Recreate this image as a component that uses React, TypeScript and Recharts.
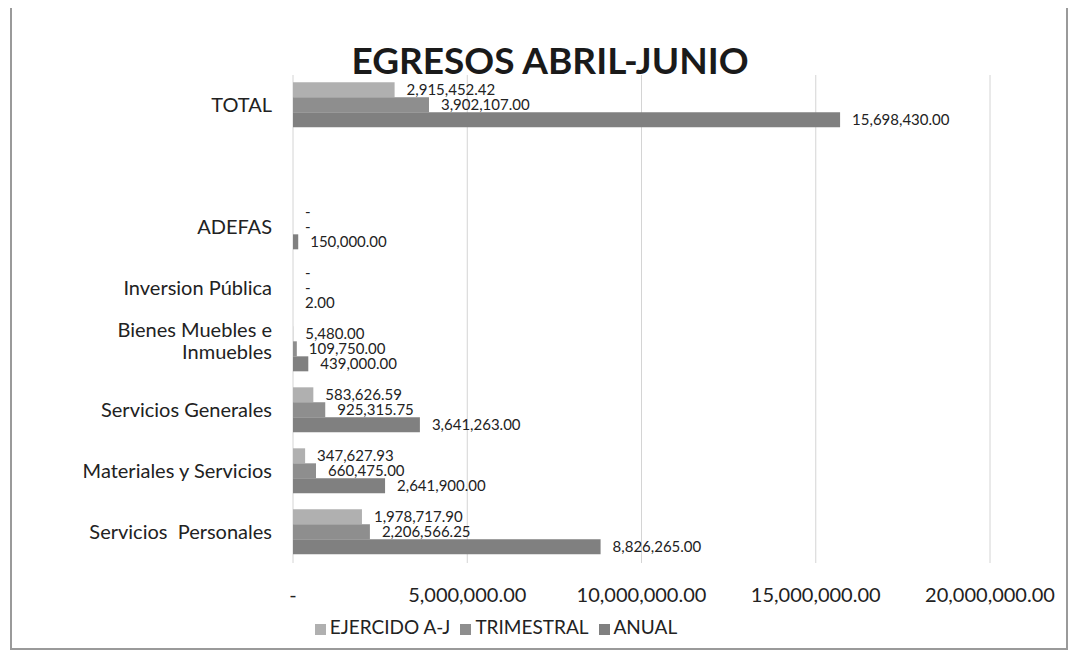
import React from 'react';
import { BarChart, Bar, XAxis, YAxis, CartesianGrid, Legend, LabelList } from 'recharts';

const categories = [
  'TOTAL',
  '',
  'ADEFAS',
  'Inversion Pública',
  'Bienes Muebles e Inmuebles',
  'Servicios Generales',
  'Materiales y Servicios',
  'Servicios  Personales',
];
const ejercido = [2915452.42, null, 0, 0, 5480, 583626.59, 347627.93, 1978717.9];
const trimestral = [3902107, null, 0, 0, 109750, 925315.75, 660475, 2206566.25];
const anual = [15698430, null, 150000, 2, 439000, 3641263, 2641900, 8826265];
const xTicks = [0, 5000000, 10000000, 15000000, 20000000];
const seriesNames = ['EJERCIDO A-J', 'TRIMESTRAL', 'ANUAL'];

const data = categories.map((name, i) => ({
  name,
  ejercido: ejercido[i],
  trimestral: trimestral[i],
  anual: anual[i],
}));

const FONT = 'Lato, "Open Sans", sans-serif';

const money = (v: any) => {
  if (v === null || v === undefined) return '';
  if (v === 0) return '-';
  return Number(v).toLocaleString('en-US', { minimumFractionDigits: 2, maximumFractionDigits: 2 });
};

// wrap long category names onto two lines
const splitLabel = (s: string) => {
  if (s.length <= 23) return [s];
  const words = s.split(' ');
  const lines: string[] = [];
  let cur = '';
  words.forEach((w) => {
    const next = cur ? cur + ' ' + w : w;
    if (next.length > 17 && cur) {
      lines.push(cur);
      cur = w;
    } else cur = next;
  });
  if (cur) lines.push(cur);
  return lines;
};

const CategoryTick = (props: any) => {
  const { x, y, payload } = props;
  const lines = splitLabel(payload.value || '');
  const lh = 22;
  return (
    <text x={x} y={y} textAnchor="end" fill="#222" fontSize={20} fontFamily={FONT} style={{ whiteSpace: 'pre' }}>
      {lines.map((l, i) => (
        <tspan key={i} x={x} dy={i === 0 ? ((1 - lines.length) * lh) / 2 + 6 - (lines.length > 1 ? 8 : 0) : lh}>
          {l}
        </tspan>
      ))}
    </text>
  );
};

const labelStyle = { fontSize: 15, fontFamily: FONT, fill: '#222' };

export default function App() {
  return (
    <div
      style={{
        position: 'relative',
        width: 1058,
        height: 642,
        marginLeft: 2,
        boxSizing: 'border-box',
        borderLeft: '2px solid #9a9a9a',
        borderRight: '2px solid #9a9a9a',
        borderBottom: '2px solid #9a9a9a',
        background: '#fff',
      }}
    >
      <div
        style={{
          position: 'absolute',
          left: 0,
          width: 1076,
          top: 33,
          textAlign: 'center',
          fontFamily: FONT,
          fontWeight: 700,
          fontSize: 37,
          color: '#1a1a1a',
          lineHeight: 1,
          zIndex: 2,
          pointerEvents: 'none',
        }}
      >
        EGRESOS ABRIL-JUNIO
      </div>
      <BarChart
        width={1052}
        height={640}
        data={data}
        layout="vertical"
        margin={{ top: 67, right: 74, left: 0, bottom: 10 }}
        barCategoryGap="12%"
        barGap={0}
      >
        <CartesianGrid horizontal={false} stroke="#d4d4d4" />
        <XAxis
          type="number"
          domain={[0, 20000000]}
          ticks={xTicks}
          tickFormatter={money}
          axisLine={false}
          tickLine={false}
          tickSize={0}
          tickMargin={25}
          height={52}
          tick={{ fontSize: 20, fontFamily: FONT, fill: '#222' }}
          interval={0}
        />
        <YAxis
          type="category"
          dataKey="name"
          width={281}
          axisLine={false}
          tickLine={false}
          tickSize={0}
          tickMargin={21}
          tick={<CategoryTick />}
          interval={0}
        />
        <Legend
          verticalAlign="bottom"
          iconType="square"
          iconSize={11}
          itemSorter={(item: any) => seriesNames.indexOf(item.value)}
          wrapperStyle={{ fontSize: 19, fontFamily: FONT }}
          formatter={(v: any) => <span style={{ color: '#222' }}>{v}</span>}
        />
        <Bar dataKey="ejercido" name={seriesNames[0]} fill="#b0b0b0" minPointSize={0.01} isAnimationActive={false}>
          <LabelList dataKey="ejercido" position="right" offset={12} formatter={money} style={labelStyle} />
        </Bar>
        <Bar dataKey="trimestral" name={seriesNames[1]} fill="#8e8e8e" minPointSize={0.01} isAnimationActive={false}>
          <LabelList dataKey="trimestral" position="right" offset={12} formatter={money} style={labelStyle} />
        </Bar>
        <Bar dataKey="anual" name={seriesNames[2]} fill="#808080" minPointSize={0.01} isAnimationActive={false}>
          <LabelList dataKey="anual" position="right" offset={12} formatter={money} style={labelStyle} />
        </Bar>
      </BarChart>
    </div>
  );
}
